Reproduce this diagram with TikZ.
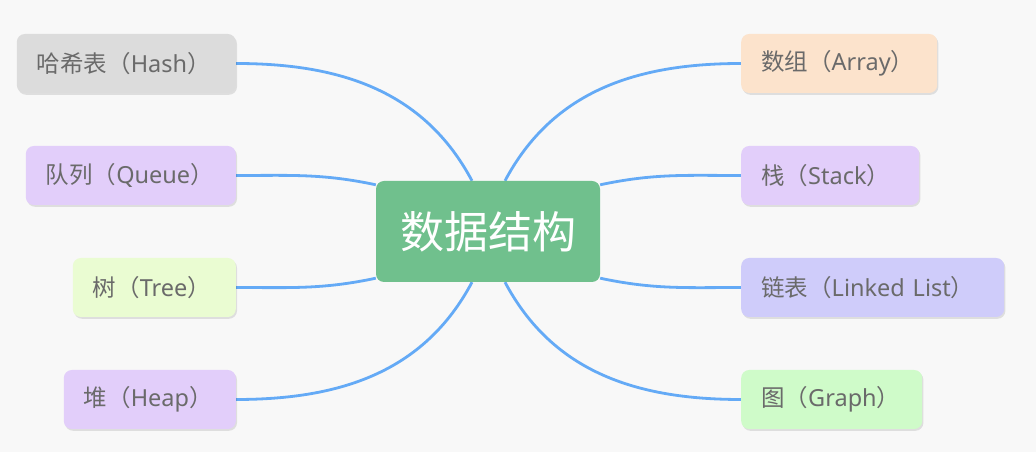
\documentclass[tikz,border=0pt]{standalone}
\usepackage{fontspec}
\setmainfont{Noto Sans}
\newfontfamily\cjk{Noto Sans CJK SC}
\usetikzlibrary{shadows,backgrounds}
\definecolor{bgc}{HTML}{F8F8F8}
\definecolor{linec}{HTML}{64AAF6}
\definecolor{txt}{HTML}{6A6A6A}
\definecolor{cgray}{HTML}{DCDCDC}
\definecolor{cpurple}{HTML}{E2CEFA}
\definecolor{cgreen}{HTML}{EAFCD2}
\definecolor{corange}{HTML}{FCE3CC}
\definecolor{cblue}{HTML}{CFCCFA}
\definecolor{cmint}{HTML}{CFFBC9}
\definecolor{ccenter}{HTML}{70C08D}
\tikzset{
  topic/.style={rounded corners=8pt, minimum height=59pt, inner xsep=20pt, inner ysep=0pt,
    align=left, font=\fontsize{23.5}{27}\selectfont, text=txt,
    drop shadow={shadow xshift=1.2pt, shadow yshift=-1.8pt, fill=black, opacity=0.10}},
  root/.style={rounded corners=8pt, fill=ccenter, minimum width=224pt, minimum height=101pt,
    font=\cjk\fontsize{44}{50}\selectfont, text=white, inner sep=0pt},
  branch/.style={draw=linec, line width=2.8pt}
}
\begin{document}
\begin{tikzpicture}[x=1pt,y=1pt]
\useasboundingbox (0,0) rectangle (1036,452);
\node[root] (c) at (488,220.5) {数据结构};
\node[topic, fill=cgray, text width=179pt, anchor=east] (hash) at (236,388.5) {{\cjk 哈希表（}Hash{\cjk ）}};
\node[topic, fill=cpurple, text width=170pt, anchor=east] (queue) at (236,276.5) {{\cjk 队列（}Queue{\cjk ）}};
\node[topic, fill=cgreen, text width=123pt, anchor=east] (tree) at (236,164.5) {{\cjk 树（}Tree{\cjk ）}};
\node[topic, fill=cpurple, text width=132pt, anchor=east] (heap) at (236,52.5) {{\cjk 堆（}Heap{\cjk ）}};
\node[topic, fill=corange, text width=156pt, anchor=west] (array) at (741,388.5) {{\cjk 数组（}Array{\cjk ）}};
\node[topic, fill=cpurple, text width=138pt, anchor=west] (stack) at (741,276.5) {{\cjk 栈（}Stack{\cjk ）}};
\node[topic, fill=cblue, text width=223pt, anchor=west] (list) at (741,164.5) {{\cjk 链表（}Linked List{\cjk ）}};
\node[topic, fill=cmint, text width=141pt, anchor=west] (graph) at (741,52.5) {{\cjk 图（}Graph{\cjk ）}};
\begin{scope}[on background layer]
\fill[bgc] (0,0) rectangle (1036,452);
\draw[branch] (hash.east) to[out=0,in=118] ([xshift=-16pt]c.north);
\draw[branch] (queue.east) to[out=0,in=168] ([yshift=-4pt]c.north west);
\draw[branch] (tree.east) to[out=0,in=192] ([yshift=4pt]c.south west);
\draw[branch] (heap.east) to[out=0,in=-118] ([xshift=-16pt]c.south);
\draw[branch] (array.west) to[out=180,in=62] ([xshift=17pt]c.north);
\draw[branch] (stack.west) to[out=180,in=12] ([yshift=-4pt]c.north east);
\draw[branch] (list.west) to[out=180,in=-12] ([yshift=4pt]c.south east);
\draw[branch] (graph.west) to[out=180,in=-62] ([xshift=17pt]c.south);
\end{scope}
\end{tikzpicture}
\end{document}
